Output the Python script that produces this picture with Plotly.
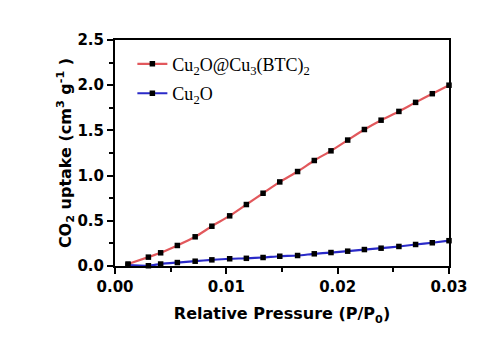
import plotly.graph_objects as go

# Relative pressure (P/P0) for each isotherm point
pressure = [0.00117, 0.0030, 0.0041, 0.0056, 0.0072, 0.0087, 0.0103, 0.0118, 0.0133, 0.0148,
            0.0164, 0.0179, 0.0194, 0.0209, 0.0224, 0.0239, 0.0255, 0.0270, 0.0285, 0.0300]

# CO2 uptake (cm3 g-1)
uptake_mof = [0.022, 0.098, 0.146, 0.227, 0.323, 0.440, 0.555, 0.680, 0.805, 0.930,
              1.045, 1.167, 1.274, 1.393, 1.510, 1.613, 1.710, 1.810, 1.906, 2.000]
uptake_cu2o = [0.010, 0.003, 0.022, 0.038, 0.053, 0.068, 0.080, 0.085, 0.094, 0.108,
               0.116, 0.135, 0.149, 0.164, 0.182, 0.197, 0.216, 0.238, 0.257, 0.280]

series_names = ["Cu<sub>2</sub>O@Cu<sub>3</sub>(BTC)<sub>2</sub>", "Cu<sub>2</sub>O"]
line_colors = ["#e2585c", "#2a2ac8"]

x_ticks = [0.00, 0.01, 0.02, 0.03]
x_tick_text = ["0.00", "0.01", "0.02", "0.03"]
y_ticks = [0.0, 0.5, 1.0, 1.5, 2.0, 2.5]
y_tick_text = ["0.0", "0.5", "1.0", "1.5", "2.0", "2.5"]

fig = go.Figure()
for name, ys, color in zip(series_names, [uptake_mof, uptake_cu2o], line_colors):
    fig.add_trace(go.Scatter(
        x=pressure, y=ys, name=name, legendgroup=name,
        mode="lines+markers",
        line=dict(color=color, width=2.2, shape="spline", smoothing=0.6),
        marker=dict(symbol="square", size=5.5, color="black"),
        cliponaxis=False,
    ))

axis_font = dict(family="DejaVu Sans", size=15, color="black", weight="bold")
title_font = dict(family="DejaVu Sans", size=16, color="black", weight="bold")

fig.update_layout(
    width=480, height=338,
    margin=dict(l=115, r=23, t=40, b=71.5),
    paper_bgcolor="white", plot_bgcolor="white",
    showlegend=True,
    legend=dict(
        x=0.052, y=0.975, xanchor="left", yanchor="top",
        font=dict(family="Liberation Serif", size=18, color="black"),
        bgcolor="rgba(0,0,0,0)",
        traceorder="grouped", tracegroupgap=3,
    ),
)

fig.update_xaxes(
    range=[0, 0.03],
    tickvals=x_ticks, ticktext=x_tick_text, tickfont=axis_font,
    ticks="outside", ticklen=6, tickwidth=2, tickcolor="black",
    minor=dict(dtick=0.005, tick0=0, ticks="outside", ticklen=4, tickwidth=2, tickcolor="black"),
    showline=True, linewidth=2, linecolor="black", mirror=True,
    showgrid=False, zeroline=False,
    title=dict(text="Relative Pressure (P/P<sub>0</sub>)", font=title_font, standoff=13),
)
fig.update_yaxes(
    range=[0, 2.5],
    tickvals=y_ticks, ticktext=y_tick_text, tickfont=axis_font,
    ticks="outside", ticklen=6, tickwidth=2, tickcolor="black",
    minor=dict(dtick=0.25, tick0=0, ticks="outside", ticklen=4, tickwidth=2, tickcolor="black"),
    showline=True, linewidth=2, linecolor="black", mirror=True,
    showgrid=False, zeroline=False,
    title=dict(text="CO<sub>2</sub> uptake (cm<sup>3</sup> g<sup>-1</sup> )", font=title_font, standoff=0),
)

fig.write_html("out.html")
